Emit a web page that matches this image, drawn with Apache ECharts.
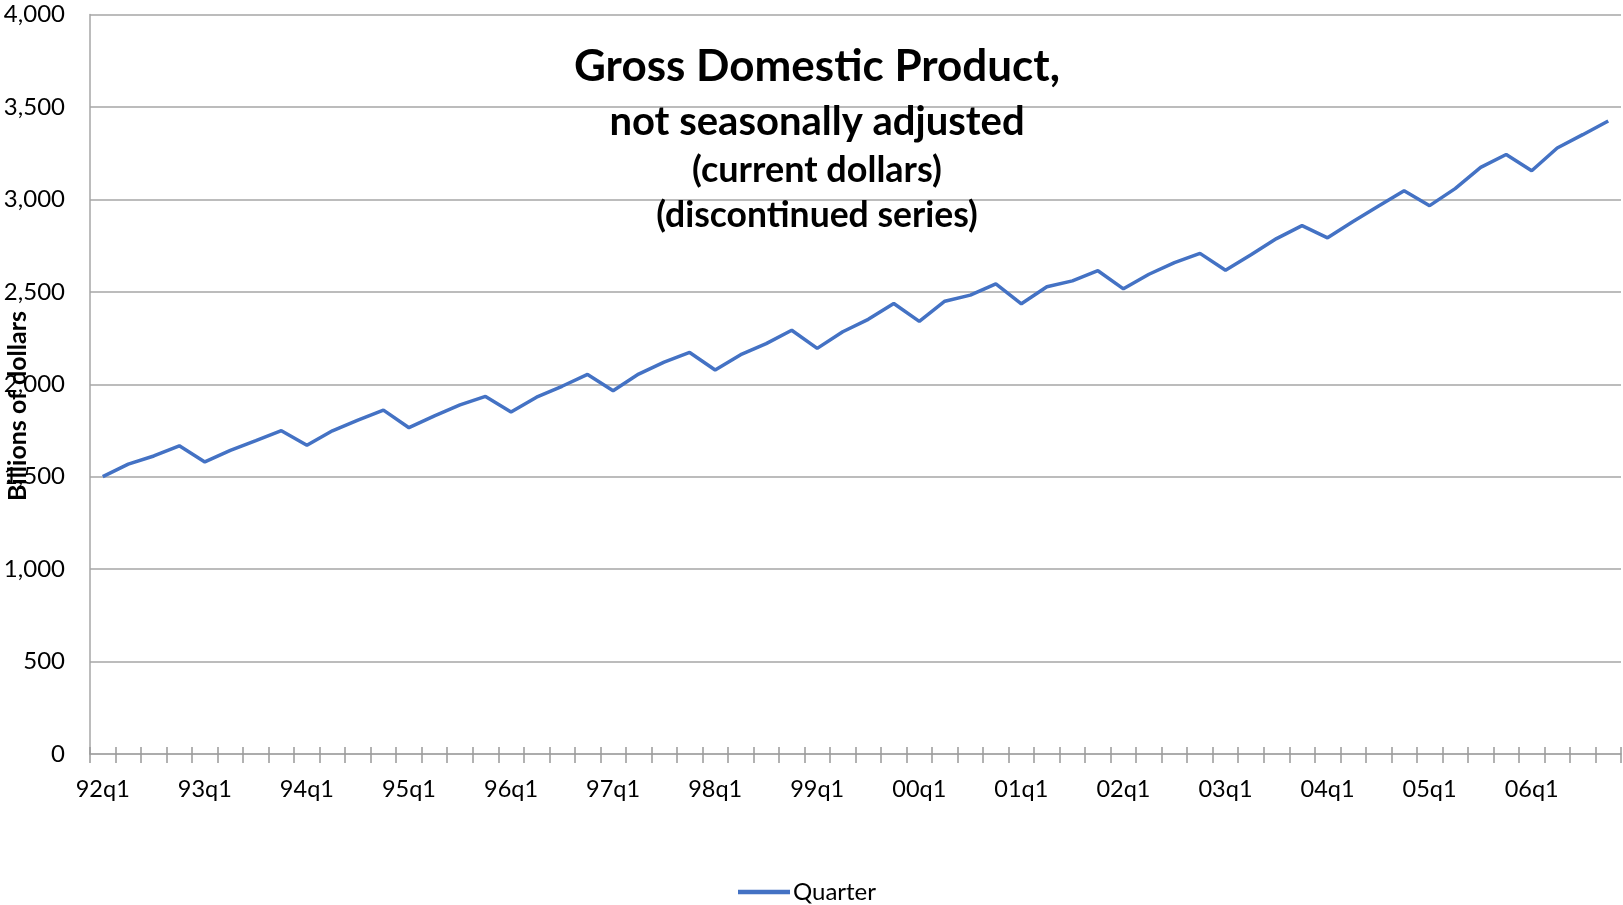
<!DOCTYPE html>
<html>
<head>
<meta charset="utf-8">
<script src="https://cdn.jsdelivr.net/npm/echarts@6/dist/echarts.min.js"></script>
<style>
  html, body { margin: 0; padding: 0; background: #fff; }
  #chart { width: 1623px; height: 905px; }
</style>
</head>
<body>
<div id="chart"></div>
<script>
// quarters 92q1 .. 06q4
const years = ['92', '93', '94', '95', '96', '97', '98', '99', '00', '01', '02', '03', '04', '05', '06']
const quarters = ['q1', 'q2', 'q3', 'q4']
const categories = years.flatMap((y) => quarters.map((q) => y + q))

// GDP, billions of dollars
const gdpValues = [
  1500, 1568, 1612, 1667, 1580, 1642, 1695, 1749, 1670, 1748, 1806, 1860,
  1765, 1829, 1888, 1934, 1850, 1930, 1989, 2053, 1965, 2055, 2120, 2172,
  2077, 2160, 2220, 2292, 2194, 2284, 2351, 2437, 2340, 2449, 2482, 2543,
  2435, 2527, 2559, 2614, 2516, 2595, 2658, 2708, 2617, 2700, 2788, 2858,
  2792, 2880, 2964, 3047, 2966, 3058, 3173, 3243, 3155, 3278, 3350, 3424
]

const titleLines = [
  { text: 'Gross Domestic Product,', size: 44, top: 45 },
  { text: 'not seasonally adjusted', size: 40, top: 102 },
  { text: '(current dollars)', size: 36, top: 152 },
  { text: '(discontinued series)', size: 35.5, top: 198 }
]

const font = 'Lato, "Open Sans", sans-serif'
const gridColor = '#a6a6a6'
const tickColor = '#999999'

const chart = echarts.init(document.getElementById('chart'))

chart.setOption({
  animation: false,
  backgroundColor: '#fff',
  title: titleLines.map((t) => ({
    text: t.text,
    left: 817,
    top: t.top,
    textAlign: 'center',
    padding: 0,
    textStyle: { fontFamily: font, fontWeight: 'bold', fontSize: t.size, color: '#000' }
  })),
  grid: { left: 90, right: 2, top: 14.5, bottom: 151 },
  legend: {
    data: ['Quarter'],
    left: 733,
    top: 875,
    itemWidth: 52,
    itemHeight: 4.5,
    itemGap: 4,
    icon: 'rect',
    textStyle: { fontFamily: font, fontSize: 24, color: '#000', padding: [0, 0, 0, -2] }
  },
  xAxis: [
    {
      type: 'category',
      data: categories,
      boundaryGap: true,
      axisLine: { lineStyle: { color: gridColor, width: 1.5 } },
      axisTick: { show: true, interval: 0, length: 9, lineStyle: { color: tickColor, width: 1.5 } },
      axisLabel: {
        interval: 3,
        margin: 23,
        fontFamily: font,
        fontSize: 23.5,
        color: '#000'
      }
    },
    {
      // upper half of the crossing tick marks
      type: 'category',
      data: categories,
      position: 'bottom',
      boundaryGap: true,
      axisLine: { show: false },
      axisTick: { show: true, interval: 0, inside: true, length: 7, lineStyle: { color: tickColor, width: 1.5 } },
      axisLabel: { show: false }
    }
  ],
  yAxis: {
    type: 'value',
    min: 0,
    max: 4000,
    interval: 500,
    axisLine: { show: true, lineStyle: { color: gridColor, width: 1.5 } },
    axisTick: { show: false },
    splitLine: { lineStyle: { color: gridColor, width: 1.5 } },
    axisLabel: {
      margin: 25,
      fontFamily: font,
      fontSize: 24,
      color: '#000',
      formatter: (v) => v.toLocaleString('en-US')
    }
  },
  graphic: [
    {
      type: 'text',
      x: 18,
      y: 406,
      rotation: Math.PI / 2,
      style: {
        text: 'Billions of dollars',
        fontFamily: font,
        fontWeight: 'bold',
        fontSize: 25,
        fill: '#000',
        align: 'center',
        verticalAlign: 'middle'
      }
    }
  ],
  series: [
    {
      name: 'Quarter',
      type: 'line',
      data: gdpValues,
      showSymbol: false,
      symbol: 'none',
      lineStyle: { color: '#4472c4', width: 3.5 },
      itemStyle: { color: '#4472c4' }
    }
  ]
})
</script>
</body>
</html>
